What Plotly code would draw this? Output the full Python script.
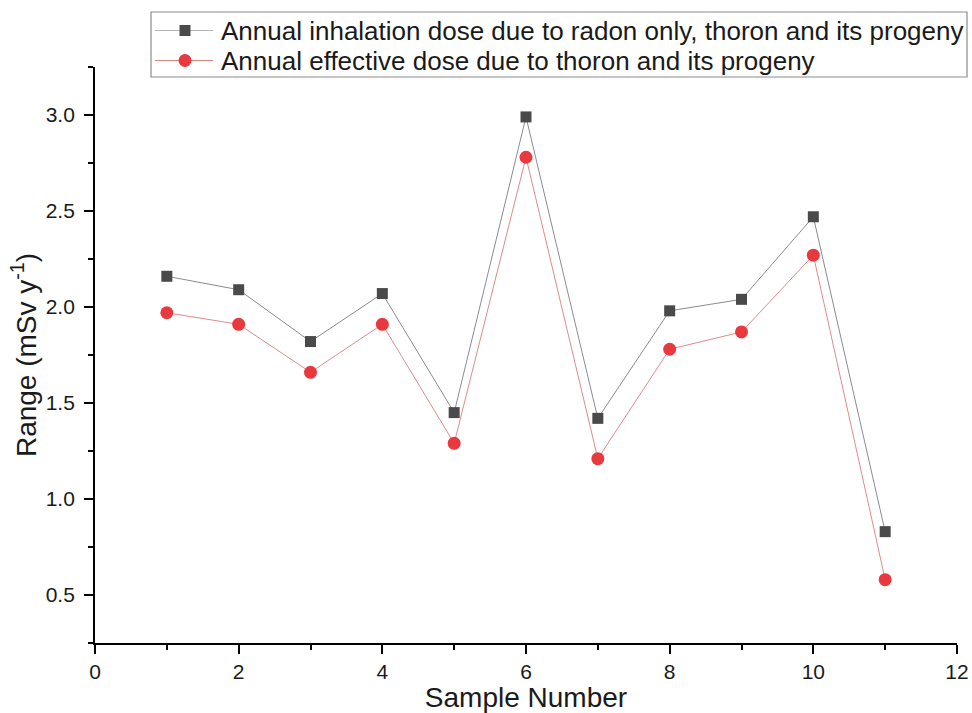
import plotly.graph_objects as go

samples = [1, 2, 3, 4, 5, 6, 7, 8, 9, 10, 11]
inhalation_dose = [2.16, 2.09, 1.82, 2.07, 1.45, 2.99, 1.42, 1.98, 2.04, 2.47, 0.83]
effective_dose = [1.97, 1.91, 1.66, 1.91, 1.29, 2.78, 1.21, 1.78, 1.87, 2.27, 0.58]

name1 = "Annual inhalation dose due to radon only, thoron and its progeny"
name2 = "Annual effective dose due to thoron and its progeny"

sq_color = "#4a4a4a"
sq_line = "rgba(100,100,100,0.75)"
ci_color = "#e8393e"
ci_line = "rgba(215,110,110,0.8)"

fig = go.Figure()
fig.add_trace(go.Scatter(
    x=samples, y=inhalation_dose, mode="lines+markers", name=name1,
    line=dict(color=sq_line, width=1),
    marker=dict(symbol="square", size=11, color=sq_color),
    showlegend=False,
))
fig.add_trace(go.Scatter(
    x=samples, y=effective_dose, mode="lines+markers", name=name2,
    line=dict(color=ci_line, width=1),
    marker=dict(symbol="circle", size=13, color=ci_color),
    showlegend=False,
))

# Plot area in page pixels
PL, PR, PT, PB = 95, 957, 67, 643
def px(x):
    return (x - PL) / (PR - PL)
def py(y):
    return (PB - y) / (PB - PT)

font_family = "Liberation Sans, Arial, sans-serif"

# Custom legend (box, sample lines, markers, labels)
shapes = [
    dict(type="rect", xref="paper", yref="paper", x0=px(151), x1=px(967), y0=py(77), y1=py(12),
         line=dict(color="#8c8c8c", width=1.2), fillcolor="white", layer="above"),
]
annotations = []
rows = [(30.5, name1, "square", sq_color, "#b4b4b4", 11), (60.5, name2, "circle", ci_color, "#d88888", 13)]
for yc, label, sym, mcol, lcol, size in rows:
    shapes.append(dict(type="line", xref="paper", yref="paper", x0=px(155), x1=px(213), y0=py(yc), y1=py(yc),
                       line=dict(color=lcol, width=1), layer="above"))
    h = size / 2
    shapes.append(dict(type="rect" if sym == "square" else "circle", xref="paper", yref="paper",
                       x0=px(185 - h), x1=px(185 + h), y0=py(yc + h), y1=py(yc - h),
                       line=dict(width=0), fillcolor=mcol, layer="above"))
    annotations.append(dict(xref="paper", yref="paper", x=px(219), y=py(yc + 0.5), xanchor="left", yanchor="middle",
                            text=label, showarrow=False, font=dict(size=26, family=font_family, color="#1a1a1a")))

fig.update_layout(
    width=972, height=713,
    margin=dict(l=95, r=15, t=67, b=70),
    plot_bgcolor="white", paper_bgcolor="white",
    font=dict(family=font_family, color="#1a1a1a"),
    showlegend=False,
    shapes=shapes,
    annotations=annotations,
    xaxis=dict(
        range=[0, 12], tick0=0, dtick=2, automargin=False,
        showgrid=False, zeroline=False,
        showline=True, linecolor="black", linewidth=1.8,
        ticks="outside", ticklen=9, tickwidth=1.8, tickcolor="black",
        tickfont=dict(size=21),
        minor=dict(ticks="outside", ticklen=5, tickwidth=1.5, tickcolor="black", dtick=1, tick0=0),
        title=dict(text="Sample Number", font=dict(size=28), standoff=11),
    ),
    yaxis=dict(
        range=[0.25, 3.25], tick0=0.5, dtick=0.5, tickformat=".1f", automargin=False,
        showgrid=False, zeroline=False,
        showline=True, linecolor="black", linewidth=1.8,
        ticks="outside", ticklen=9, tickwidth=1.8, tickcolor="black",
        tickfont=dict(size=21), ticklabelstandoff=5,
        minor=dict(ticks="outside", ticklen=5, tickwidth=1.5, tickcolor="black", dtick=0.25, tick0=0.25),
        title=dict(text="Range (mSv y<sup>-1</sup>)", font=dict(size=28), standoff=1),
    ),
)

# remove the default 8px page margin so the figure fills the window exactly
fig.write_html(
    "out.html",
    config={"displayModeBar": False},
    post_script="document.body.style.margin='0';document.body.style.overflow='hidden';",
)
